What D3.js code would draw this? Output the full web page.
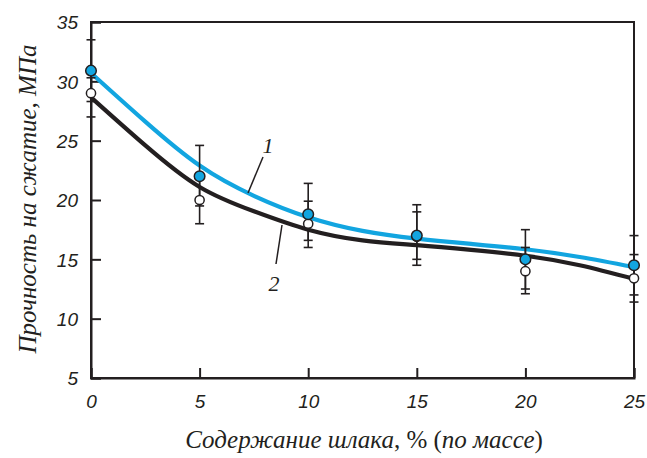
<!DOCTYPE html>
<html><head><meta charset="utf-8">
<script src="https://cdn.jsdelivr.net/npm/d3@7"></script>
<style>html,body{margin:0;padding:0;background:#fff;}svg{display:block;}</style>
</head><body>
<svg id="c" width="647" height="458"></svg>
<script>
// Data
const xValues = [0, 5, 10, 15, 20, 25];
const series1 = [30.9, 22.0, 18.8, 17.0, 15.0, 14.5];      // curve 1 (blue, filled)
const series1Hi = [33.5, 24.6, 21.4, 19.6, 17.5, 17.0];
const series1Lo = [28.3, 19.5, 16.6, 14.5, 12.5, 12.0];
const series2 = [29.0, 20.0, 18.0, 16.9, 14.0, 13.4];      // curve 2 (black, open)
const series2Hi = [30.3, 22.0, 19.9, 19.0, 16.0, 15.4];
const series2Lo = [27.0, 18.0, 16.0, 15.0, 12.1, 11.4];
const curveX = [0, 2.5, 5, 7.5, 10, 12.5, 15, 17.5, 20, 22.5, 25];
const curve1 = [30.7, 26.6, 22.9, 20.35, 18.55, 17.4, 16.75, 16.3, 15.85, 15.2, 14.35];
const curve2 = [28.65, 24.6, 21.1, 19.05, 17.5, 16.6, 16.2, 15.8, 15.3, 14.5, 13.35];
const xTicks = [0, 5, 10, 15, 20, 25];
const yTicks = [5, 10, 15, 20, 25, 30, 35];
const xTitle = "Содержание шлака, % (по массе)";
const yTitle = "Прочность на сжатие, МПа";

const svg = d3.select("#c");
const ink = "#231f20", blue = "#12a5e0";
const x = d3.scaleLinear().domain([0, 25]).range([91, 634]);
const y = d3.scaleLinear().domain([5, 35]).range([378, 22]);

// frame
svg.append("rect").attr("x", x(0)).attr("y", y(35)).attr("width", x(25) - x(0)).attr("height", y(5) - y(35))
  .attr("fill", "none").attr("stroke", ink).attr("stroke-width", 2);

const tickFont = "'Liberation Sans', Arial, sans-serif";
const gx = svg.append("g").attr("transform", `translate(0,${y(5)})`)
  .call(d3.axisBottom(x).tickValues(xTicks).tickSize(-10).tickPadding(17).tickFormat(d3.format("d")));
const gy = svg.append("g").attr("transform", `translate(${x(0)},0)`)
  .call(d3.axisLeft(y).tickValues(yTicks).tickSize(-10).tickPadding(13).tickFormat(d3.format("d")));
[gx, gy].forEach(g => {
  g.select(".domain").attr("stroke", ink).attr("stroke-width", 2);
  g.selectAll(".tick line").attr("stroke", ink).attr("stroke-width", 2);
  g.selectAll(".tick text").attr("fill", ink).style("font-family", tickFont)
    .style("font-style", "italic").style("font-size", "19px");
});
gy.selectAll(".tick text").attr("dy", "0.36em");

// curves
const line = d3.line().x(d => x(d[0])).y(d => y(d[1])).curve(d3.curveNatural);
svg.append("path").datum(curveX.map((v, i) => [v, curve2[i]])).attr("d", line)
  .attr("fill", "none").attr("stroke", ink).attr("stroke-width", 4.2);
svg.append("path").datum(curveX.map((v, i) => [v, curve1[i]])).attr("d", line)
  .attr("fill", "none").attr("stroke", blue).attr("stroke-width", 4.2);

// error bars
function errBars(lo, hi) {
  const g = svg.append("g").attr("stroke", ink).attr("stroke-width", 1.6);
  xValues.forEach((v, i) => {
    g.append("line").attr("x1", x(v)).attr("x2", x(v)).attr("y1", y(lo[i])).attr("y2", y(hi[i]));
    [lo[i], hi[i]].forEach(e => g.append("line").attr("x1", x(v) - 4.5).attr("x2", x(v) + 4.5)
      .attr("y1", y(e)).attr("y2", y(e)));
  });
}
errBars(series2Lo, series2Hi);
errBars(series1Lo, series1Hi);

// points
svg.append("g").selectAll("circle").data(xValues).join("circle")
  .attr("cx", d => x(d)).attr("cy", (d, i) => y(series2[i])).attr("r", 4.6)
  .attr("fill", "#fff").attr("stroke", ink).attr("stroke-width", 1.5);
svg.append("g").selectAll("circle").data(xValues).join("circle")
  .attr("cx", d => x(d)).attr("cy", (d, i) => y(series1[i])).attr("r", 5.3)
  .attr("fill", blue).attr("stroke", ink).attr("stroke-width", 1.5);

// curve labels with leader lines
const serif = "'Liberation Serif', 'Times New Roman', serif";
svg.append("line").attr("x1", 263).attr("y1", 157).attr("x2", 248).attr("y2", 193).attr("stroke", ink).attr("stroke-width", 1.5);
svg.append("line").attr("x1", 282).attr("y1", 225).attr("x2", 276).attr("y2", 264).attr("stroke", ink).attr("stroke-width", 1.5);
svg.append("text").attr("x", 268).attr("y", 153).attr("text-anchor", "middle").text("1")
  .style("font-family", serif).style("font-style", "italic").style("font-size", "22px").attr("fill", ink);
svg.append("text").attr("x", 274).attr("y", 291).attr("text-anchor", "middle").text("2")
  .style("font-family", serif).style("font-style", "italic").style("font-size", "22px").attr("fill", ink);

// axis titles
const xt = svg.append("text").attr("x", 364).attr("y", 448).attr("text-anchor", "middle")
  .style("font-family", serif).style("font-size", "25px").attr("fill", ink);
xt.append("tspan").style("font-style", "italic").text("Содержание шлака");
xt.append("tspan").text(", % (");
xt.append("tspan").style("font-style", "italic").text("по массе");
xt.append("tspan").text(")");

svg.append("text").attr("transform", "translate(36,199) rotate(-90)").attr("text-anchor", "middle")
  .style("font-family", serif).style("font-style", "italic").style("font-size", "25px").attr("fill", ink)
  .text(yTitle);
</script>
</body></html>
